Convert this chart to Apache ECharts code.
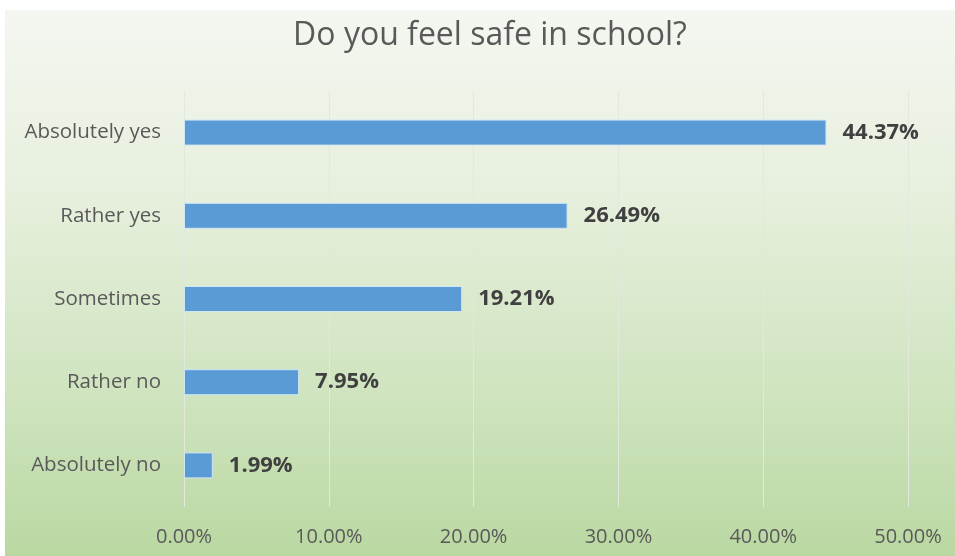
<!DOCTYPE html>
<html><head><meta charset="utf-8">
<script src="https://cdn.jsdelivr.net/npm/echarts@6/dist/echarts.min.js"></script>
<style>html,body{margin:0;padding:0;background:#fff}#c{width:955px;height:556px}</style>
</head><body><div id="c"></div>
<script>
const categories = ["Absolutely no", "Rather no", "Sometimes", "Rather yes", "Absolutely yes"];
const values = [1.99, 7.95, 19.21, 26.49, 44.37];
const tickLabels = ["0.00%", "10.00%", "20.00%", "30.00%", "40.00%", "50.00%"];
const titleText = "Do you feel safe in school?";

const chart = echarts.init(document.getElementById('c'), null, {renderer: 'canvas'});
const font = '"Open Sans", Lato, sans-serif';
chart.setOption({
  animation: false,
  graphic: [{
    type: 'rect', z: -10, silent: true,
    shape: {x: 5, y: 10, width: 950, height: 546},
    style: {
      fill: new echarts.graphic.LinearGradient(0, 0, 0, 1, [
        {offset: 0, color: '#f4f7f1'},
        {offset: 0.35, color: '#e6efdc'},
        {offset: 0.7, color: '#cfe4bf'},
        {offset: 1, color: '#bad8a2'}
      ])
    }
  }, {
    type: 'text', silent: true, x: 490, y: 36,
    style: {text: titleText, fontFamily: font, fontSize: 32, fill: '#595959',
            textAlign: 'center', textVerticalAlign: 'middle'}
  }],
  grid: {left: 184, right: 47, top: 91, bottom: 49, containLabel: false},
  xAxis: {
    type: 'value', min: 0, max: 50, interval: 10,
    axisLine: {show: false}, axisTick: {show: false},
    splitLine: {lineStyle: {color: '#e3e8de', width: 1}},
    axisLabel: {
      margin: 20, fontFamily: font, fontSize: 20, color: '#595959',
      formatter: v => tickLabels[Math.round(v / 10)]
    }
  },
  yAxis: {
    type: 'category', data: categories,
    axisLine: {show: false}, axisTick: {show: false},
    axisLabel: {margin: 23, fontFamily: font, fontSize: 20.5, color: '#595959'}
  },
  series: [{
    type: 'bar', data: values, barWidth: 26,
    itemStyle: {color: '#5b9bd5', borderColor: '#cfe6f5', borderWidth: 1},
    label: {
      show: true, position: 'right', distance: 16,
      fontFamily: font, fontSize: 22, fontWeight: 'bold', color: '#404040',
      formatter: p => p.value.toFixed(2) + '%'
    }
  }]
});
</script></body></html>
